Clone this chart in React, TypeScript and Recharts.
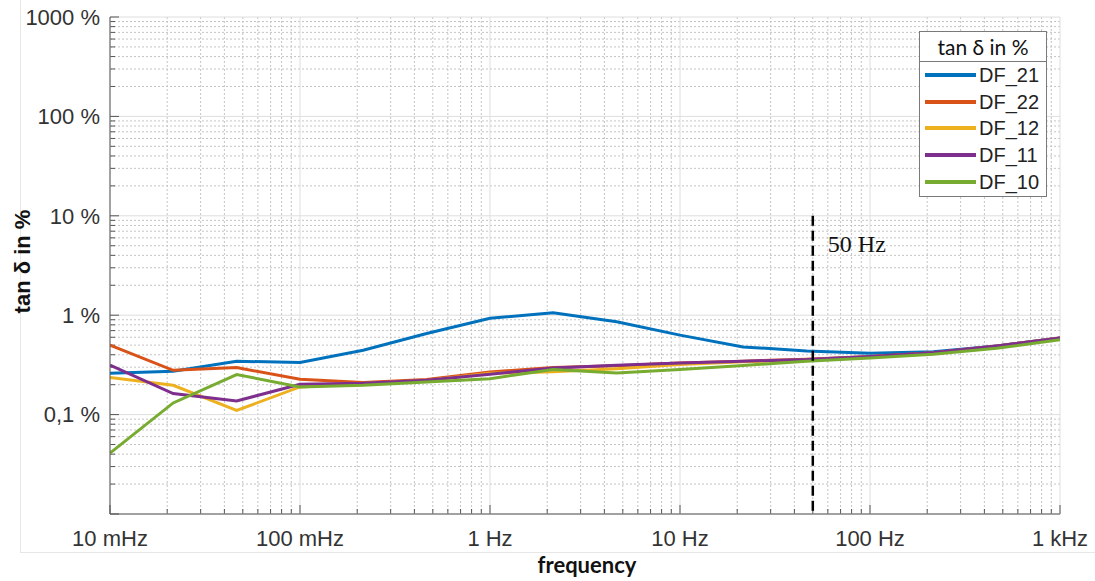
import React from 'react';
import { LineChart, Line, XAxis, YAxis, ReferenceLine, Legend, Label } from 'recharts';

// ---- data ----
const frequencies = [0.01, 0.0215, 0.0464, 0.1, 0.215, 0.464, 1, 2.15, 4.64, 10, 21.5, 46.4, 100, 215, 464, 1000];
const DF_21 = [0.26, 0.273, 0.344, 0.334, 0.444, 0.654, 0.93, 1.06, 0.86, 0.63, 0.48, 0.437, 0.415, 0.43, 0.49, 0.59];
const DF_22 = [0.5, 0.279, 0.297, 0.227, 0.21, 0.225, 0.269, 0.297, 0.31, 0.33, 0.345, 0.36, 0.385, 0.42, 0.49, 0.59];
const DF_12 = [0.236, 0.197, 0.11, 0.19, 0.205, 0.22, 0.26, 0.27, 0.29, 0.32, 0.34, 0.355, 0.38, 0.415, 0.485, 0.585];
const DF_11 = [0.314, 0.163, 0.137, 0.202, 0.207, 0.222, 0.255, 0.295, 0.314, 0.331, 0.345, 0.358, 0.385, 0.42, 0.49, 0.59];
const DF_10 = [0.041, 0.131, 0.253, 0.19, 0.197, 0.213, 0.23, 0.284, 0.262, 0.284, 0.312, 0.345, 0.372, 0.405, 0.465, 0.565];

const seriesNames = ['DF_21', 'DF_22', 'DF_12', 'DF_11', 'DF_10'];
const seriesValues = [DF_21, DF_22, DF_12, DF_11, DF_10];
const seriesColors = ['#0072BD', '#D95319', '#EDB120', '#7E2F8E', '#77AC30'];

const xMajorTicks = [0.01, 0.1, 1, 10, 100, 1000];
const xTickLabels = ['10 mHz', '100 mHz', '1 Hz', '10 Hz', '100 Hz', '1 kHz'];
const yMajorTicks = [0.01, 0.1, 1, 10, 100, 1000];
const yTickLabels = ['', '0,1 %', '1 %', '10 %', '100 %', '1000 %'];
const minorMultipliers = [2, 3, 4, 5, 6, 7, 8, 9];

const markerFrequency = 50;
const markerTop = 10;
const markerLabel = '50 Hz';
const legendTitle = 'tan δ in %';
const xTitle = 'frequency';
const yTitle = 'tan δ in %';

// ---- derived tables ----
const data = frequencies.map((f, i) => {
  const row: any = { f };
  seriesNames.forEach((n, k) => { row[n] = seriesValues[k][i]; });
  return row;
});
const minorOf = (majors: number[]) => {
  const out: number[] = [];
  majors.slice(0, -1).forEach((d) => minorMultipliers.forEach((m) => out.push(d * m)));
  return out;
};
const xMinorTicks = minorOf(xMajorTicks);
const yMinorTicks = minorOf(yMajorTicks);

const AXIS = '#555555';
const MAJOR_GRID = '#dedede';
const MINOR_GRID = '#c4c4c4';
const TICK_FONT = '"Liberation Sans", Arial, sans-serif';

const vShape = (major: boolean) => (p: any) => {
  const yb = Math.max(p.y1, p.y2);
  const yt = Math.min(p.y1, p.y2);
  return (
    <g>
      <line x1={p.x1} x2={p.x1} y1={yt} y2={yb} stroke={major ? MAJOR_GRID : MINOR_GRID}
        strokeWidth={1} strokeDasharray={major ? undefined : '2 2'} />
      <line x1={p.x1} x2={p.x1} y1={yb} y2={yb - (major ? 9 : 5)} stroke={AXIS} strokeWidth={1} />
    </g>
  );
};
const hShape = (major: boolean) => (p: any) => {
  const xl = Math.min(p.x1, p.x2);
  const xr = Math.max(p.x1, p.x2);
  return (
    <g>
      <line x1={xl} x2={xr} y1={p.y1} y2={p.y1} stroke={major ? MAJOR_GRID : MINOR_GRID}
        strokeWidth={1} strokeDasharray={major ? undefined : '2 2'} />
      <line x1={xl} x2={xl + (major ? 9 : 5)} y1={p.y1} y2={p.y1} stroke={AXIS} strokeWidth={1} />
    </g>
  );
};
const markerShape = (p: any) => {
  const yt = Math.min(p.y1, p.y2);
  const yb = Math.max(p.y1, p.y2);
  return (
    <g>
      <line x1={p.x1} x2={p.x1} y1={yt} y2={yb} stroke="#000" strokeWidth={2.5} strokeDasharray="10 5" />
      <text x={p.x1 + 15} y={yt + 36} fontFamily='"Liberation Serif", "DejaVu Serif", serif' fontSize={24} fill="#111">
        {markerLabel}
      </text>
    </g>
  );
};

const renderLegend = () => {
  const entries = seriesNames.map((n, i) => ({ name: n, color: seriesColors[i] }));
  return (
    <div style={{ width: 128, height: 166, border: '1px solid #7a7a7a', background: '#fff', boxSizing: 'border-box' }}>
      <div style={{ height: 29, borderBottom: '1px solid #7a7a7a', textAlign: 'center', fontFamily: 'Lato, "Open Sans", sans-serif',
        fontSize: 21, lineHeight: '29px', color: '#111' }}>
        {legendTitle}
      </div>
      {entries.map((e) => (
        <div key={e.name} style={{ height: 26.6, display: 'flex', alignItems: 'center' }}>
          <span style={{ display: 'inline-block', width: 51, height: 4, background: e.color, marginLeft: 5, marginRight: 3 }} />
          <span style={{ fontFamily: TICK_FONT, fontSize: 20, color: '#222', lineHeight: '20px' }}>{e.name}</span>
        </div>
      ))}
    </div>
  );
};

export default function App() {
  return (
    <div style={{ position: 'absolute', left: 0, top: 0, width: 1095, height: 581, background: '#fff' }}>
      <div style={{ position: 'absolute', left: 20, top: 0, width: 1075, height: 553, borderLeft: '1px solid #e6e6e6',
        borderBottom: '1px solid #e6e6e6', boxSizing: 'border-box' }} />
      <LineChart width={1095} height={581} data={data} margin={{ top: 17, right: 35, bottom: 27, left: 30 }}>
        <XAxis dataKey="f" type="number" scale="log" domain={[0.01, 1000]} ticks={xMajorTicks} allowDataOverflow
          tickFormatter={(v: number) => xTickLabels[xMajorTicks.findIndex((t) => Math.abs(t - v) / t < 1e-6)] ?? ''}
          tickLine={false} tickSize={0} tickMargin={16} height={40} interval={0}
          axisLine={{ stroke: AXIS, strokeWidth: 1 }}
          tick={{ fill: '#333', fontSize: 22, fontFamily: TICK_FONT }}>
          <Label content={(p: any) => {
            const vb = p.viewBox || { x: 110, y: 514, width: 950 };
            return (
              <text x={vb.x + vb.width / 2 + 2} y={vb.y + 59} textAnchor="middle" fontFamily='Lato, "Open Sans", sans-serif'
                fontWeight="bold" fontSize={22} fill="#111">{xTitle}</text>
            );
          }} />
        </XAxis>
        <YAxis type="number" scale="log" domain={[0.01, 1000]} ticks={yMajorTicks} allowDataOverflow width={80}
          tickFormatter={(v: number) => yTickLabels[yMajorTicks.findIndex((t) => Math.abs(t - v) / t < 1e-6)] ?? ''}
          tickLine={false} tickSize={0} tickMargin={10} interval={0}
          axisLine={{ stroke: AXIS, strokeWidth: 1 }}
          tick={{ fill: '#333', fontSize: 22, fontFamily: TICK_FONT }}>
          <Label content={(p: any) => {
            const vb = p.viewBox || { x: 30, y: 17, height: 497 };
            const cx = 22;
            const cy = vb.y + vb.height / 2 - 4;
            return (
              <text x={cx} y={cy} transform={`rotate(-90 ${cx} ${cy})`} textAnchor="middle" dominantBaseline="central"
                fontFamily={TICK_FONT} fontWeight="bold" fontSize={22} fill="#111">{yTitle}</text>
            );
          }} />
        </YAxis>

        {xMinorTicks.map((v) => (
          <ReferenceLine key={'xm' + v} x={v} shape={vShape(false)} />
        ))}
        {yMinorTicks.map((v) => (
          <ReferenceLine key={'ym' + v} y={v} shape={hShape(false)} />
        ))}
        {xMajorTicks.map((v) => (
          <ReferenceLine key={'xM' + v} x={v} shape={vShape(true)} />
        ))}
        {yMajorTicks.map((v) => (
          <ReferenceLine key={'yM' + v} y={v} shape={hShape(true)} />
        ))}

        {seriesNames.map((n, i) => (
          <Line key={n} dataKey={n} name={n} type="linear" stroke={seriesColors[i]} strokeWidth={3}
            dot={false} activeDot={false} isAnimationActive={false} />
        ))}

        <ReferenceLine segment={[{ x: markerFrequency, y: markerTop }, { x: markerFrequency, y: 0.01 }]} shape={markerShape} />

        <Legend layout="vertical" align="center" verticalAlign="middle" content={renderLegend}
          wrapperStyle={{ position: 'absolute', left: 919, top: 31, width: 128, height: 166 }} />
      </LineChart>
    </div>
  );
}
